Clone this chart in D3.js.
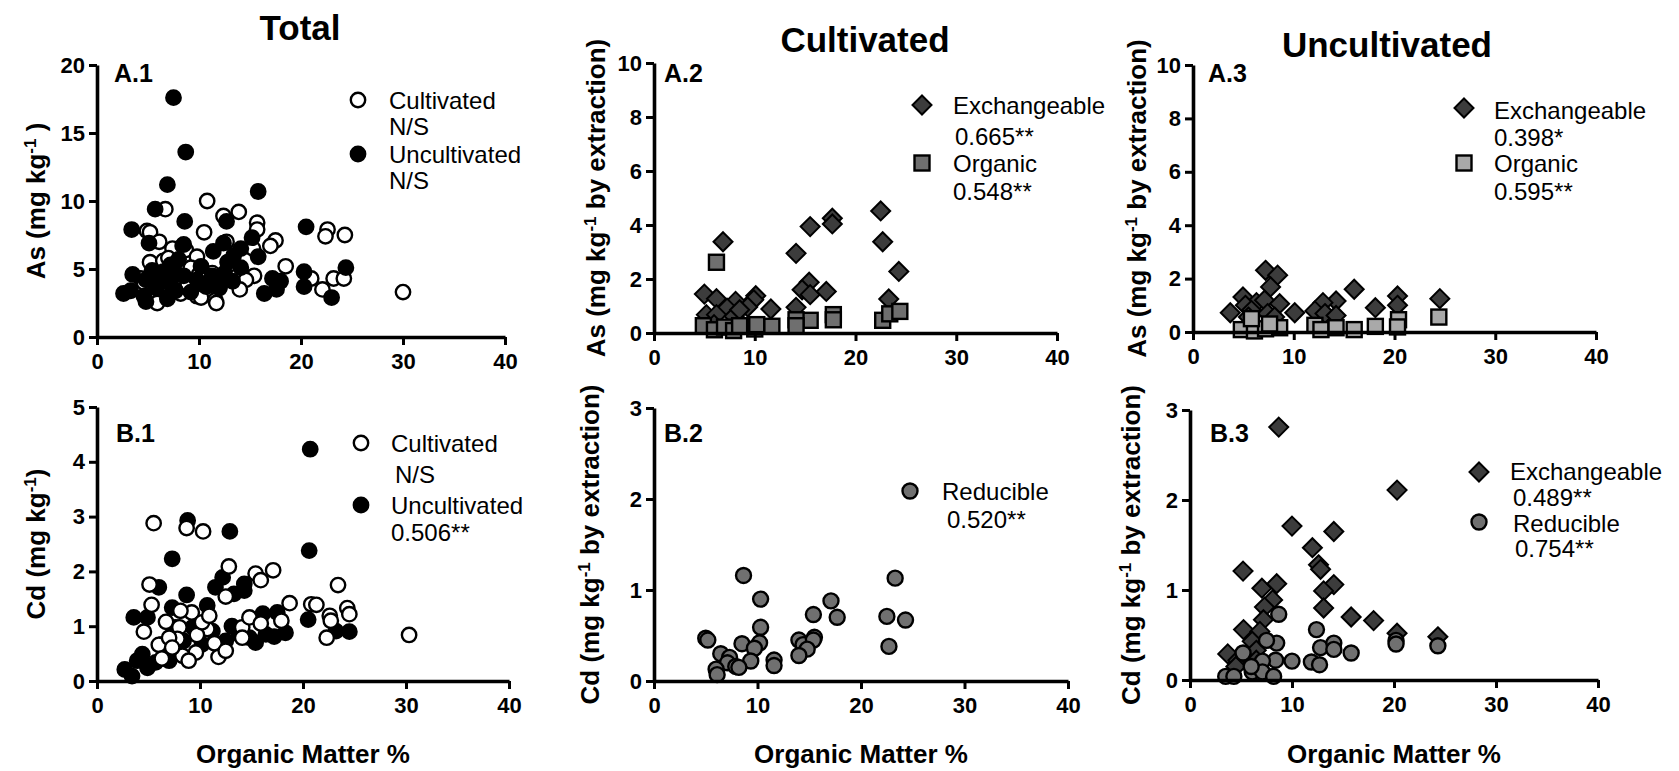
<!DOCTYPE html>
<html>
<head>
<meta charset="utf-8">
<script src="https://cdn.jsdelivr.net/npm/d3@7"></script>
<style>
  body { margin: 0; background: #fff; }
  svg { display: block; }
  text { font-family: "Liberation Sans", Arial, sans-serif; }
</style>
</head>
<body>
<script>
// ---- data: [organic matter %, concentration] ----
const totalAsCultivated = [[4.9,7.8],[5.2,7.7],[6.1,7.0],[6.7,9.4],[10.8,10.0],[13.9,9.2],[12.4,8.9],[15.7,8.4],[15.7,7.9],[10.5,7.7],[22.6,7.9],[22.4,7.4],[24.3,7.5],[17.5,7.1],[17.0,6.7],[7.4,6.5],[8.4,6.7],[8.7,6.4],[9.8,5.9],[5.2,5.5],[6.5,5.6],[15.3,6.5],[12.7,7.0],[18.5,5.2],[9.2,5.1],[7.5,4.8],[10.0,4.6],[11.3,4.7],[13.8,4.8],[15.4,4.5],[14.6,4.2],[14.0,3.5],[6.2,3.8],[8.4,3.4],[9.8,3.0],[11.6,2.7],[5.8,2.7],[21.0,4.3],[22.1,3.5],[23.2,4.3],[24.2,4.3],[30.0,3.3],[4.3,4.3],[5.1,3.3],[8.2,3.2],[10.2,2.9],[11.7,2.5],[5.9,2.5],[7.0,5.8],[12.9,5.3],[8.9,3.9],[12.0,3.6],[4.6,4.0],[7.2,4.3]];
const totalAsUncultivated = [[7.5,17.6],[8.7,13.6],[6.9,11.2],[15.8,10.7],[5.7,9.4],[8.6,8.5],[12.7,8.5],[3.4,7.9],[20.5,8.1],[5.1,6.9],[8.5,6.8],[12.4,6.9],[11.4,6.3],[15.2,7.3],[15.8,5.9],[13.4,6.0],[14.1,6.5],[8.0,5.7],[7.2,5.3],[10.2,5.2],[12.8,5.5],[14.1,5.1],[3.5,4.6],[5.4,4.9],[7.9,4.6],[8.5,4.5],[11.3,4.5],[12.5,4.7],[6.2,4.3],[4.8,4.2],[7.2,3.9],[9.8,4.2],[12.0,3.7],[13.3,4.1],[10.7,3.7],[2.6,3.2],[3.3,3.4],[4.6,3.0],[4.8,2.6],[6.9,2.8],[7.7,3.4],[17.2,4.3],[16.4,3.2],[18.0,4.1],[17.6,3.5],[20.3,4.8],[20.3,3.7],[23.0,2.9],[24.4,5.1],[5.8,3.6],[9.2,3.3],[11.0,3.8],[6.5,4.8]];

const totalCdCultivated = [[5.5,2.88],[8.7,2.79],[10.3,2.73],[12.8,2.09],[15.4,1.96],[15.9,1.84],[17.1,2.02],[5.1,1.76],[12.5,1.54],[23.4,1.75],[18.7,1.42],[20.8,1.40],[21.3,1.39],[24.3,1.33],[24.5,1.22],[22.6,1.19],[22.7,1.10],[22.3,0.79],[30.3,0.84],[5.3,1.39],[6.7,1.08],[9.2,1.25],[4.55,0.90],[8.0,0.98],[10.7,0.95],[9.7,0.84],[7.8,0.77],[11.4,0.69],[6.0,0.66],[9.6,0.52],[6.3,0.41],[8.3,0.46],[8.9,0.37],[11.8,0.44],[12.5,0.55],[14.1,0.98],[14.8,1.16],[15.9,1.05],[17.9,1.10],[14.1,0.79],[7.0,0.79],[10.2,1.07],[8.1,1.28],[7.3,0.61],[10.9,1.19]];
const totalCdUncultivated = [[20.7,4.23],[20.6,2.38],[12.9,2.73],[7.3,2.23],[8.8,2.93],[6.0,1.71],[12.2,1.89],[11.5,1.71],[14.3,1.77],[13.3,1.59],[14.3,1.65],[8.7,1.57],[10.7,1.38],[3.57,1.16],[4.9,1.16],[7.3,1.34],[20.5,1.12],[24.5,0.90],[23.2,0.91],[16.1,1.23],[17.5,1.25],[18.3,0.88],[17.2,0.81],[16.4,0.85],[15.4,0.70],[13.1,1.00],[12.5,0.73],[2.7,0.21],[3.4,0.09],[3.9,0.37],[4.4,0.49],[4.9,0.24],[5.7,0.34],[7.0,0.37],[8.0,0.49],[8.4,0.73],[10.2,0.67],[11.2,0.91],[9.3,0.98],[13.8,0.85],[14.8,0.79],[7.6,0.98],[6.3,0.67]];

const cultAsExchangeable = [[22.5,4.52],[17.7,4.25],[17.7,4.04],[15.5,3.94],[6.85,3.38],[22.7,3.38],[14.1,2.95],[24.3,2.28],[15.4,1.88],[14.7,1.60],[15.5,1.42],[17.1,1.54],[5.0,1.44],[6.2,1.27],[10.1,1.38],[9.9,1.23],[8.1,1.17],[23.3,1.26],[7.25,0.92],[9.3,0.96],[11.6,0.89],[14.1,0.95],[5.2,0.68],[6.2,0.68],[7.95,0.62],[5.96,0.31],[8.5,0.86]];
const cultAsOrganic = [[6.2,2.62],[17.8,0.68],[17.8,0.49],[15.5,0.47],[14.1,0.49],[14.1,0.27],[22.7,0.47],[23.4,0.71],[24.4,0.80],[4.9,0.27],[6.0,0.12],[7.0,0.22],[7.9,0.09],[9.3,0.25],[10.0,0.15],[10.2,0.31],[11.7,0.25],[8.5,0.27]];

const uncultAsExchangeable = [[7.2,2.31],[8.4,2.13],[7.7,1.69],[4.96,1.31],[16.0,1.60],[6.3,1.10],[7.1,1.19],[8.6,1.06],[5.2,1.00],[14.2,1.16],[12.9,1.10],[20.3,1.35],[20.3,1.00],[24.5,1.25],[18.1,0.91],[3.7,0.72],[10.1,0.72],[12.1,0.79],[13.1,0.69],[14.2,0.62],[5.8,0.81],[7.4,0.69],[8.1,0.56],[5.5,0.56]];
const uncultAsOrganic = [[4.8,0.09],[6.1,0.04],[7.2,0.12],[8.6,0.16],[12.1,0.25],[12.7,0.09],[14.2,0.16],[16.0,0.09],[18.1,0.21],[20.4,0.46],[20.3,0.19],[24.4,0.56],[5.8,0.50],[7.6,0.30]];

const cultCdReducible = [[8.65,1.16],[23.3,1.13],[10.3,0.90],[17.1,0.88],[15.4,0.73],[17.7,0.70],[22.5,0.71],[24.3,0.67],[10.3,0.59],[5.0,0.47],[5.2,0.45],[22.7,0.38],[14.0,0.45],[15.5,0.48],[14.4,0.40],[15.4,0.45],[14.8,0.35],[14.0,0.28],[8.5,0.41],[10.2,0.42],[9.7,0.36],[6.45,0.30],[7.3,0.26],[9.35,0.22],[11.6,0.23],[11.6,0.17],[7.1,0.20],[7.9,0.16],[8.2,0.15],[6.0,0.13],[6.1,0.07]];

const uncultCdExchangeable = [[8.7,2.81],[20.3,2.11],[10.0,1.71],[14.1,1.65],[12.0,1.47],[12.6,1.28],[12.8,1.23],[5.2,1.21],[7.05,1.02],[8.5,1.07],[14.1,1.06],[13.1,0.99],[8.1,0.89],[7.3,0.81],[13.1,0.80],[15.8,0.70],[18.0,0.66],[20.3,0.52],[24.3,0.48],[5.25,0.56],[7.2,0.67],[6.85,0.54],[6.1,0.43],[3.7,0.29],[4.7,0.22],[5.5,0.28],[6.5,0.33],[6.5,0.22],[4.5,0.15]];
const uncultCdReducible = [[8.7,0.73],[12.4,0.56],[8.5,0.41],[7.5,0.44],[12.8,0.36],[14.1,0.41],[14.1,0.34],[15.8,0.30],[20.2,0.44],[20.2,0.40],[24.3,0.38],[10.0,0.21],[11.9,0.20],[12.7,0.17],[8.4,0.22],[7.1,0.21],[3.5,0.04],[4.3,0.04],[6.1,0.09],[7.1,0.09],[8.2,0.04],[5.2,0.30],[6.0,0.15]];

const xTicks = [0, 10, 20, 30, 40];
const columnTitles = ["Total", "Cultivated", "Uncultivated"];

// ---- drawing ----
const svg = d3.select("body").append("svg")
    .attr("width", 1679)
    .attr("height", 771);

const markerStyles = {
    open:    { shape: "circle",  fill: "#ffffff", r: 7.2 },
    filled:  { shape: "circle",  fill: "#000000", r: 7.2 },
    diamond: { shape: "diamond", fill: "#3c3c3c", r: 9.5 },
    squareDark:  { shape: "square", fill: "#6f6f6f", r: 7.5 },
    squareLight: { shape: "square", fill: "#a9a9a9", r: 7.5 },
    greyDot: { shape: "circle",  fill: "#707070", r: 7.5 }
};

function drawMarker(g, style, x, y) {
    const m = markerStyles[style];
    if (m.shape === "circle") {
        g.append("circle").attr("cx", x).attr("cy", y).attr("r", m.r)
            .attr("fill", m.fill).attr("stroke", "#000").attr("stroke-width", 2.4);
    } else if (m.shape === "square") {
        g.append("rect").attr("x", x - m.r).attr("y", y - m.r)
            .attr("width", m.r * 2).attr("height", m.r * 2)
            .attr("fill", m.fill).attr("stroke", "#000").attr("stroke-width", 2.4);
    } else {
        const s = m.r;
        g.append("path")
            .attr("d", `M${x},${y - s}L${x + s},${y}L${x},${y + s}L${x - s},${y}Z`)
            .attr("fill", m.fill).attr("stroke", "#000").attr("stroke-width", 2);
    }
}

function drawPanel(p) {
    const g = svg.append("g");
    const x = d3.scaleLinear().domain([0, 40]).range([p.x0, p.x1]);
    const y = d3.scaleLinear().domain([0, p.yMax]).range([p.yBot, p.yTop]);

    // points
    p.series.forEach(s => {
        const sg = g.append("g");
        s.data.forEach(d => drawMarker(sg, s.style, x(d[0]), y(d[1])));
    });

    // axes
    const xAxis = g.append("g").attr("transform", `translate(0,${p.yBot})`)
        .call(d3.axisBottom(x).tickValues(xTicks).tickFormat(d3.format("d"))
            .tickSize(8).tickPadding(6).tickSizeOuter(0));
    const yAxis = g.append("g").attr("transform", `translate(${p.x0},0)`)
        .call(d3.axisLeft(y).tickValues(p.yTicks).tickFormat(d3.format("d"))
            .tickSize(8).tickPadding(4).tickSizeOuter(0));
    [xAxis, yAxis].forEach(a => {
        a.select(".domain").attr("stroke", "#000").attr("stroke-width", 3.6);
        a.selectAll(".tick line").attr("stroke", "#000").attr("stroke-width", 3);
        a.selectAll(".tick text").attr("fill", "#000")
            .style("font-size", "22px").style("font-weight", "bold")
            .style("font-family", "'Liberation Sans', Arial, sans-serif");
    });
    xAxis.selectAll(".tick text").attr("dy", "0.8em");

    // panel tag
    g.append("text").attr("x", p.tag[1]).attr("y", p.tag[2])
        .style("font-size", "25px").style("font-weight", "bold").text(p.tag[0]);

    // y label
    const yl = g.append("text")
        .attr("transform", `translate(${p.yLabelX},${(p.yTop + p.yBot) / 2}) rotate(-90)`)
        .attr("text-anchor", "middle")
        .style("font-size", "26px").style("font-weight", "bold");
    yl.append("tspan").text(p.yLabel[0]);
    yl.append("tspan").attr("baseline-shift", "super").style("font-size", "17px").text("-1");
    yl.append("tspan").text(p.yLabel[1]);

    // x label (bottom row only)
    if (p.xLabel) {
        g.append("text").attr("x", (p.x0 + p.x1) / 2).attr("y", 763)
            .attr("text-anchor", "middle")
            .style("font-size", "26px").style("font-weight", "bold")
            .text("Organic Matter %");
    }

    // legend
    p.legend.forEach(l => {
        drawMarker(g, l.style, l.mx, l.my);
        l.lines.forEach(t => {
            g.append("text").attr("x", t[1]).attr("y", t[2])
                .style("font-size", "24px").text(t[0]);
        });
    });
}

const panels = [
    { x0: 97, x1: 505, yTop: 65, yBot: 337, yMax: 20, yTicks: [0, 5, 10, 15, 20],
      tag: ["A.1", 114, 82], yLabelX: 45, yLabel: ["As (mg kg", " )"],
      series: [{ data: totalAsCultivated, style: "open" }, { data: totalAsUncultivated, style: "filled" }],
      legend: [
        { style: "open", mx: 358, my: 100, lines: [["Cultivated", 389, 109], ["N/S", 389, 135]] },
        { style: "filled", mx: 358, my: 154, lines: [["Uncultivated", 389, 163], ["N/S", 389, 189]] }
      ] },
    { x0: 654, x1: 1057, yTop: 63, yBot: 333, yMax: 10, yTicks: [0, 2, 4, 6, 8, 10],
      tag: ["A.2", 664, 82], yLabelX: 605, yLabel: ["As (mg kg", " by extraction)"],
      series: [{ data: cultAsExchangeable, style: "diamond" }, { data: cultAsOrganic, style: "squareDark" }],
      legend: [
        { style: "diamond", mx: 922, my: 105, lines: [["Exchangeable", 953, 114], ["0.665**", 955, 145]] },
        { style: "squareDark", mx: 922, my: 163, lines: [["Organic", 953, 172], ["0.548**", 953, 200]] }
      ] },
    { x0: 1193, x1: 1596, yTop: 65, yBot: 332, yMax: 10, yTicks: [0, 2, 4, 6, 8, 10],
      tag: ["A.3", 1208, 82], yLabelX: 1146, yLabel: ["As (mg kg", " by extraction)"],
      series: [{ data: uncultAsExchangeable, style: "diamond" }, { data: uncultAsOrganic, style: "squareLight" }],
      legend: [
        { style: "diamond", mx: 1464, my: 108, lines: [["Exchangeable", 1494, 119], ["0.398*", 1494, 146]] },
        { style: "squareLight", mx: 1464, my: 163, lines: [["Organic", 1494, 172], ["0.595**", 1494, 200]] }
      ] },
    { x0: 97, x1: 509, yTop: 407, yBot: 681, yMax: 5, yTicks: [0, 1, 2, 3, 4, 5],
      tag: ["B.1", 116, 442], yLabelX: 45, yLabel: ["Cd (mg kg", ")"], xLabel: true,
      series: [{ data: totalCdUncultivated, style: "filled" }, { data: totalCdCultivated, style: "open" }],
      legend: [
        { style: "open", mx: 361, my: 443, lines: [["Cultivated", 391, 452], ["N/S", 395, 483]] },
        { style: "filled", mx: 361, my: 505, lines: [["Uncultivated", 391, 514], ["0.506**", 391, 541]] }
      ] },
    { x0: 654, x1: 1068, yTop: 408, yBot: 681, yMax: 3, yTicks: [0, 1, 2, 3],
      tag: ["B.2", 664, 442], yLabelX: 599, yLabel: ["Cd (mg kg", " by extraction)"], xLabel: true,
      series: [{ data: cultCdReducible, style: "greyDot" }],
      legend: [
        { style: "greyDot", mx: 910, my: 491, lines: [["Reducible", 942, 500], ["0.520**", 947, 528]] }
      ] },
    { x0: 1190, x1: 1598, yTop: 410, yBot: 680, yMax: 3, yTicks: [0, 1, 2, 3],
      tag: ["B.3", 1210, 442], yLabelX: 1140, yLabel: ["Cd (mg kg", " by extraction)"], xLabel: true,
      series: [{ data: uncultCdExchangeable, style: "diamond" }, { data: uncultCdReducible, style: "greyDot" }],
      legend: [
        { style: "diamond", mx: 1479, my: 472, lines: [["Exchangeable", 1510, 480], ["0.489**", 1513, 506]] },
        { style: "greyDot", mx: 1479, my: 522, lines: [["Reducible", 1513, 532], ["0.754**", 1515, 557]] }
      ] }
];

panels.forEach(drawPanel);

// column titles
const titlePos = [[300, 40], [865, 52], [1387, 57]];
columnTitles.forEach((t, i) => {
    svg.append("text").attr("x", titlePos[i][0]).attr("y", titlePos[i][1])
        .attr("text-anchor", "middle")
        .style("font-size", "35px").style("font-weight", "bold").text(t);
});
</script>
</body>
</html>
